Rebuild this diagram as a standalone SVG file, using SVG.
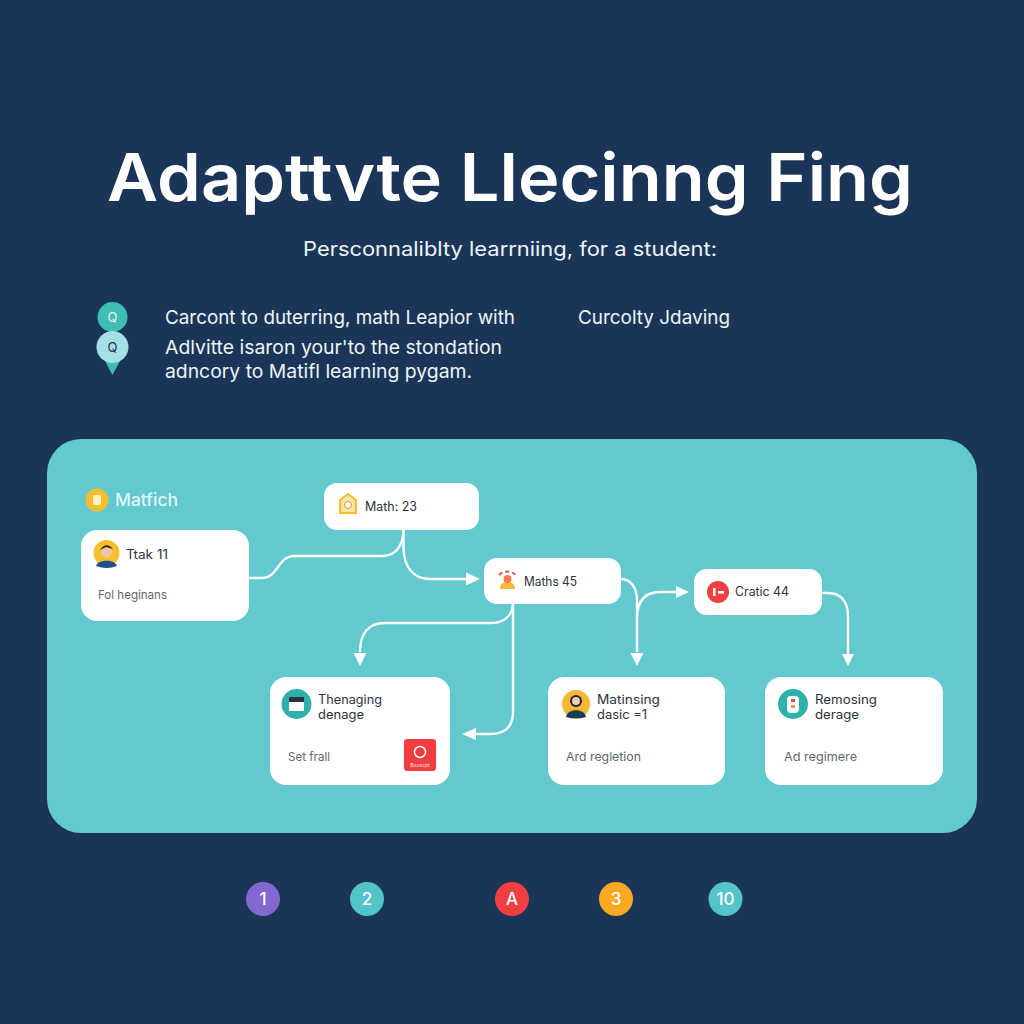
<svg xmlns="http://www.w3.org/2000/svg" width="1024" height="1024" viewBox="0 0 1024 1024">
<defs>
<style>
text{font-family:Inter,"Open Sans","Liberation Sans",sans-serif}
.card{fill:#fff}
.lbl{font-size:12.5px;fill:#2b3440}
.sub{font-size:12px;fill:#5d666e}
.intro{font-size:19px;fill:#eef5f8}
.badge{font-size:17px;fill:#fff;text-anchor:middle;font-weight:500}
.wire{fill:none;stroke:#fff;stroke-width:2.4}
.head{fill:#fff}
</style>
</defs>
<rect width="1024" height="1024" fill="#1a3557"/>
<text x="510" y="201" text-anchor="middle" font-size="66" font-weight="600" fill="#fff" textLength="806" lengthAdjust="spacingAndGlyphs">Adapttvte Llecinng Fing</text>
<text x="510" y="256" text-anchor="middle" font-size="20" fill="#eef5f8" textLength="414" lengthAdjust="spacingAndGlyphs">Persconnaliblty learrniing, for a student:</text>
<g id="intro-icons">
<path d="M105 361L120 361L112.500 375Z" fill="#3cbcb4"/>
<circle cx="112.500" cy="317" r="15" fill="#3dbdb3"/>
<circle cx="112.500" cy="347" r="16" fill="#a5e0e6"/>
<text x="112.500" y="322" text-anchor="middle" font-size="13" fill="#e5f7f5">Q</text>
<text x="112.500" y="352" text-anchor="middle" font-size="13" fill="#1a3557">Q</text>
</g>
<g id="intro-text">
<text class="intro" x="165" y="324" textLength="350" lengthAdjust="spacingAndGlyphs">Carcont to duterring, math Leapior with</text>
<text class="intro" x="165" y="354" textLength="337" lengthAdjust="spacingAndGlyphs">Adlvitte isaron your'to the stondation</text>
<text class="intro" x="165" y="378" textLength="307" lengthAdjust="spacingAndGlyphs">adncory to Matifl learning pygam.</text>
<text class="intro" x="578" y="324" textLength="152" lengthAdjust="spacingAndGlyphs">Curcolty Jdaving</text>
</g>
<rect id="panel" x="47" y="439" width="930" height="394" rx="34" fill="#62c9ce"/>
<g id="matfich-label">
<circle cx="97" cy="500" r="11.500" fill="#f4c032"/>
<rect x="93" y="495" width="8" height="10" rx="1.500" fill="#fdf0c4"/>
<text x="115" y="506" font-size="17" font-weight="500" fill="#e4f7f8" textLength="63" lengthAdjust="spacingAndGlyphs">Matfich</text>
</g>
<g id="connectors">
<path class="wire" d="M249 578H262C278 578 278 556 294 556H382C394 556 403 548 403.500 530"/>
<path class="wire" d="M403.500 530V548C404 568 414 579 430 579H466"/>
<path class="head" d="M480 579L466 572.500V585.500Z"/>
<path class="wire" d="M513 604C512 616 504 623 490 623H385C368 623 360 634 360 652"/>
<path class="head" d="M360 666L353.500 653H366.500Z"/>
<path class="wire" d="M513 604V712C513 727 505 734 490 734H476"/>
<path class="head" d="M462 734L476 728V740Z"/>
<path class="wire" d="M621 579C631 579 637 588 637 600V652"/>
<path class="head" d="M637 666L630.500 653H643.500Z"/>
<path class="wire" d="M637 616C638 600 646 592 660 592H677"/>
<path class="head" d="M689 592L676 586V598Z"/>
<path class="wire" d="M822 593H828C842 593 848 603 848 616V654"/>
<path class="head" d="M848 666L842 654H854Z"/>
</g>
<g id="node-track">
<rect class="card" x="81" y="530" width="168" height="91" rx="16"/>
<circle cx="106.500" cy="553" r="13" fill="#f6c02c"/>
<path d="M96 566C98 559 115 559 117 566Q106.500 570 96 566Z" fill="#1f4f85"/>
<circle cx="106.500" cy="552" r="5.500" fill="#f3c5a2"/>
<path d="M100 550Q106 541 113 549L106 547Z" fill="#2a2020"/>
<text class="lbl" x="126" y="559" textLength="42" lengthAdjust="spacingAndGlyphs">Ttak 11</text>
<text class="sub" x="98" y="599" textLength="69" lengthAdjust="spacingAndGlyphs">Fol heginans</text>
</g>
<g id="node-math23">
<rect class="card" x="324" y="483" width="155" height="47" rx="13"/>
<path d="M340 500L348 494L356 500V513H340Z" fill="#fbe6a6" stroke="#f2bd33" stroke-width="2"/>
<circle cx="348" cy="505" r="3.500" fill="#fff" stroke="#c79a20"/>
<text class="lbl" x="365" y="511" textLength="52" lengthAdjust="spacingAndGlyphs">Math: 23</text>
</g>
<g id="node-maths45">
<rect class="card" x="484" y="558" width="137" height="46" rx="13"/>
<path d="M500 589Q500 582 507 582Q515 582 515 589Z" fill="#f8b93a"/>
<circle cx="507.500" cy="579" r="4" fill="#ef7b4a"/>
<path d="M499 575Q507 568 516 575" fill="none" stroke="#e5534b" stroke-width="2" stroke-dasharray="4 3"/>
<text class="lbl" x="524" y="586" textLength="53" lengthAdjust="spacingAndGlyphs">Maths 45</text>
</g>
<g id="node-cratic">
<rect class="card" x="694" y="569" width="128" height="46" rx="13"/>
<circle cx="718" cy="592" r="11" fill="#ee4040"/>
<rect x="713" y="588" width="2.500" height="8" fill="#fff"/>
<rect x="718" y="591" width="6" height="2.500" fill="#fff"/>
<text class="lbl" x="735" y="596" textLength="54" lengthAdjust="spacingAndGlyphs">Cratic 44</text>
</g>
<g id="node-thenaging">
<rect class="card" x="270" y="677" width="180" height="108" rx="16"/>
<circle cx="296.500" cy="704" r="15" fill="#2cb1ab"/>
<rect x="289" y="697" width="15" height="14" fill="#fff"/>
<rect x="289" y="697" width="15" height="5" fill="#2d3240"/>
<text class="lbl" x="318" y="704" textLength="64" lengthAdjust="spacingAndGlyphs">Thenaging</text>
<text class="lbl" x="318" y="719" textLength="46" lengthAdjust="spacingAndGlyphs">denage</text>
<text class="sub" x="288" y="761" textLength="42" lengthAdjust="spacingAndGlyphs">Set frall</text>
<rect x="404" y="739" width="32" height="32" rx="3" fill="#f03e42"/>
<circle cx="420" cy="752" r="5.500" fill="none" stroke="#fff" stroke-width="1.500"/>
<text x="420" y="767" text-anchor="middle" font-size="5" fill="#ffe2e2">Bouscpt</text>
</g>
<g id="node-matinsing">
<rect class="card" x="548" y="677" width="177" height="108" rx="16"/>
<circle cx="576" cy="704" r="14" fill="#f3b637"/>
<path d="M566 717C567 708 585 708 586 717Q576 720 566 717Z" fill="#1d3a52"/>
<circle cx="576" cy="701" r="5" fill="#f0cdb8" stroke="#2a1f22" stroke-width="2"/>
<text class="lbl" x="597" y="704" textLength="63" lengthAdjust="spacingAndGlyphs">Matinsing</text>
<text class="lbl" x="597" y="719" textLength="50" lengthAdjust="spacingAndGlyphs">dasic =1</text>
<text class="sub" x="566" y="761" textLength="75" lengthAdjust="spacingAndGlyphs">Ard regletion</text>
</g>
<g id="node-remosing">
<rect class="card" x="765" y="677" width="178" height="108" rx="16"/>
<circle cx="793" cy="704" r="15" fill="#2cb1ab"/>
<rect x="787" y="696" width="12" height="17" rx="4" fill="#fff"/>
<rect x="791" y="699" width="4" height="3" fill="#d9534f"/>
<rect x="791" y="705" width="4" height="3" fill="#d9a04f"/>
<text class="lbl" x="815" y="704" textLength="62" lengthAdjust="spacingAndGlyphs">Remosing</text>
<text class="lbl" x="815" y="719" textLength="44" lengthAdjust="spacingAndGlyphs">derage</text>
<text class="sub" x="784" y="761" textLength="73" lengthAdjust="spacingAndGlyphs">Ad regimere</text>
</g>
<g id="badges">
<circle cx="263" cy="899" r="17" fill="#8468d1"/><text class="badge" x="263" y="905">1</text>
<circle cx="367" cy="899" r="17" fill="#53c5ca"/><text class="badge" x="367" y="905">2</text>
<circle cx="512" cy="899" r="17" fill="#ee3f42"/><text class="badge" x="512" y="905">A</text>
<circle cx="616" cy="899" r="17" fill="#f9a922"/><text class="badge" x="616" y="905">3</text>
<circle cx="725.500" cy="899" r="17" fill="#53c5ca"/><text class="badge" x="725.500" y="905">10</text>
</g>
</svg>
